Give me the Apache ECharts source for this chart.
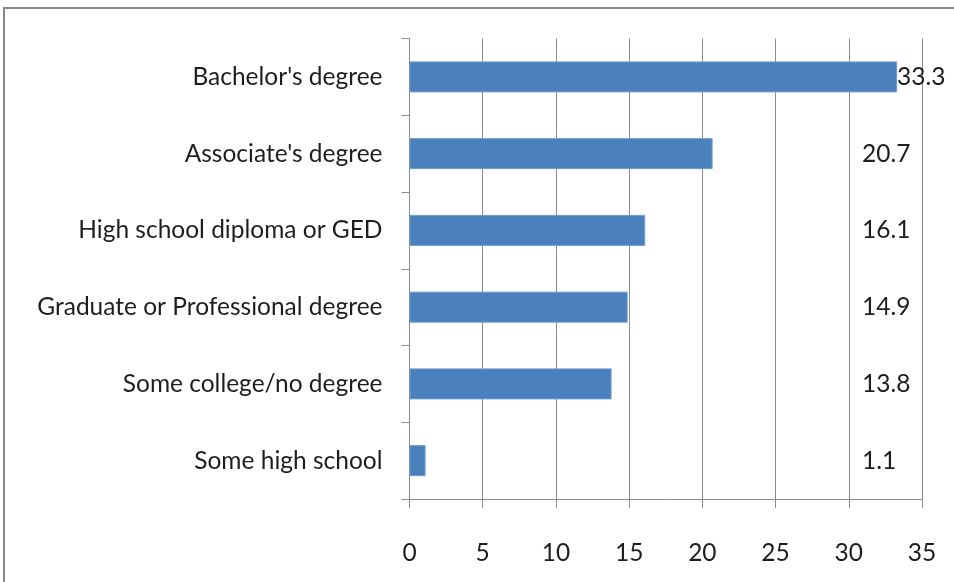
<!DOCTYPE html>
<html>
<head>
<meta charset="utf-8">
<script src="https://cdn.jsdelivr.net/npm/echarts@6/dist/echarts.min.js"></script>
<style>
  html, body { margin: 0; padding: 0; background: #fff; }
  #frame { position: absolute; left: 3px; top: 7px; width: 951px; height: 575px;
           border-left: 2px solid #888; border-top: 2px solid #888; }
  #chart { position: absolute; left: 0; top: 0; width: 954px; height: 582px; }
</style>
</head>
<body>
<div id="frame"></div>
<div id="chart"></div>
<script>
const categories = [
  "Bachelor's degree",
  "Associate's degree",
  "High school diploma or GED",
  "Graduate or Professional degree",
  "Some college/no degree",
  "Some high school"
];
const values = [33.3, 20.7, 16.1, 14.9, 13.8, 1.1];
const xTicks = [0, 5, 10, 15, 20, 25, 30, 35];

// label column position (in axis units) used by the chart's value labels
const LABEL_COLUMN = 30.9;
const labelAnchor = values.map(v => Math.max(v, LABEL_COLUMN));

const FONT = 'Lato';
const FS = 24.5;
const chart = echarts.init(document.getElementById('chart'), null, { renderer: 'canvas' });
chart.setOption({
  animation: false,
  backgroundColor: 'transparent',
  grid: { left: 409.5, right: 32, top: 38.5, bottom: 83, containLabel: false },
  xAxis: {
    type: 'value',
    min: xTicks[0],
    max: xTicks[xTicks.length - 1],
    interval: xTicks[1] - xTicks[0],
    axisLine: { show: true, lineStyle: { color: '#8c8c8c', width: 1 } },
    axisTick: { show: true, length: 9, lineStyle: { color: '#8c8c8c' } },
    splitLine: { show: true, lineStyle: { color: '#8c8c8c', width: 1 } },
    axisLabel: { margin: 42, fontSize: FS, color: '#1e1e1e', fontFamily: FONT }
  },
  yAxis: {
    type: 'category',
    inverse: true,
    data: categories,
    axisLine: { show: true, lineStyle: { color: '#8c8c8c', width: 1 } },
    axisTick: { show: true, length: 8, lineStyle: { color: '#8c8c8c' } },
    axisLabel: { margin: 27, fontSize: FS, color: '#1e1e1e', fontFamily: FONT }
  },
  series: [
    {
      type: 'bar',
      data: values,
      barWidth: 31,
      itemStyle: { color: '#4a81bd', borderColor: '#6f9bd0', borderWidth: 1 },
      z: 3
    },
    {
      type: 'bar',
      data: labelAnchor,
      barWidth: 31,
      barGap: '-100%',
      silent: true,
      itemStyle: { color: 'rgba(0,0,0,0)' },
      label: {
        show: true,
        position: 'right',
        distance: 0,
        fontSize: FS,
        color: '#1e1e1e',
        fontFamily: FONT,
        formatter: p => values[p.dataIndex].toFixed(1)
      },
      z: 4
    }
  ]
});
</script>
</body>
</html>
